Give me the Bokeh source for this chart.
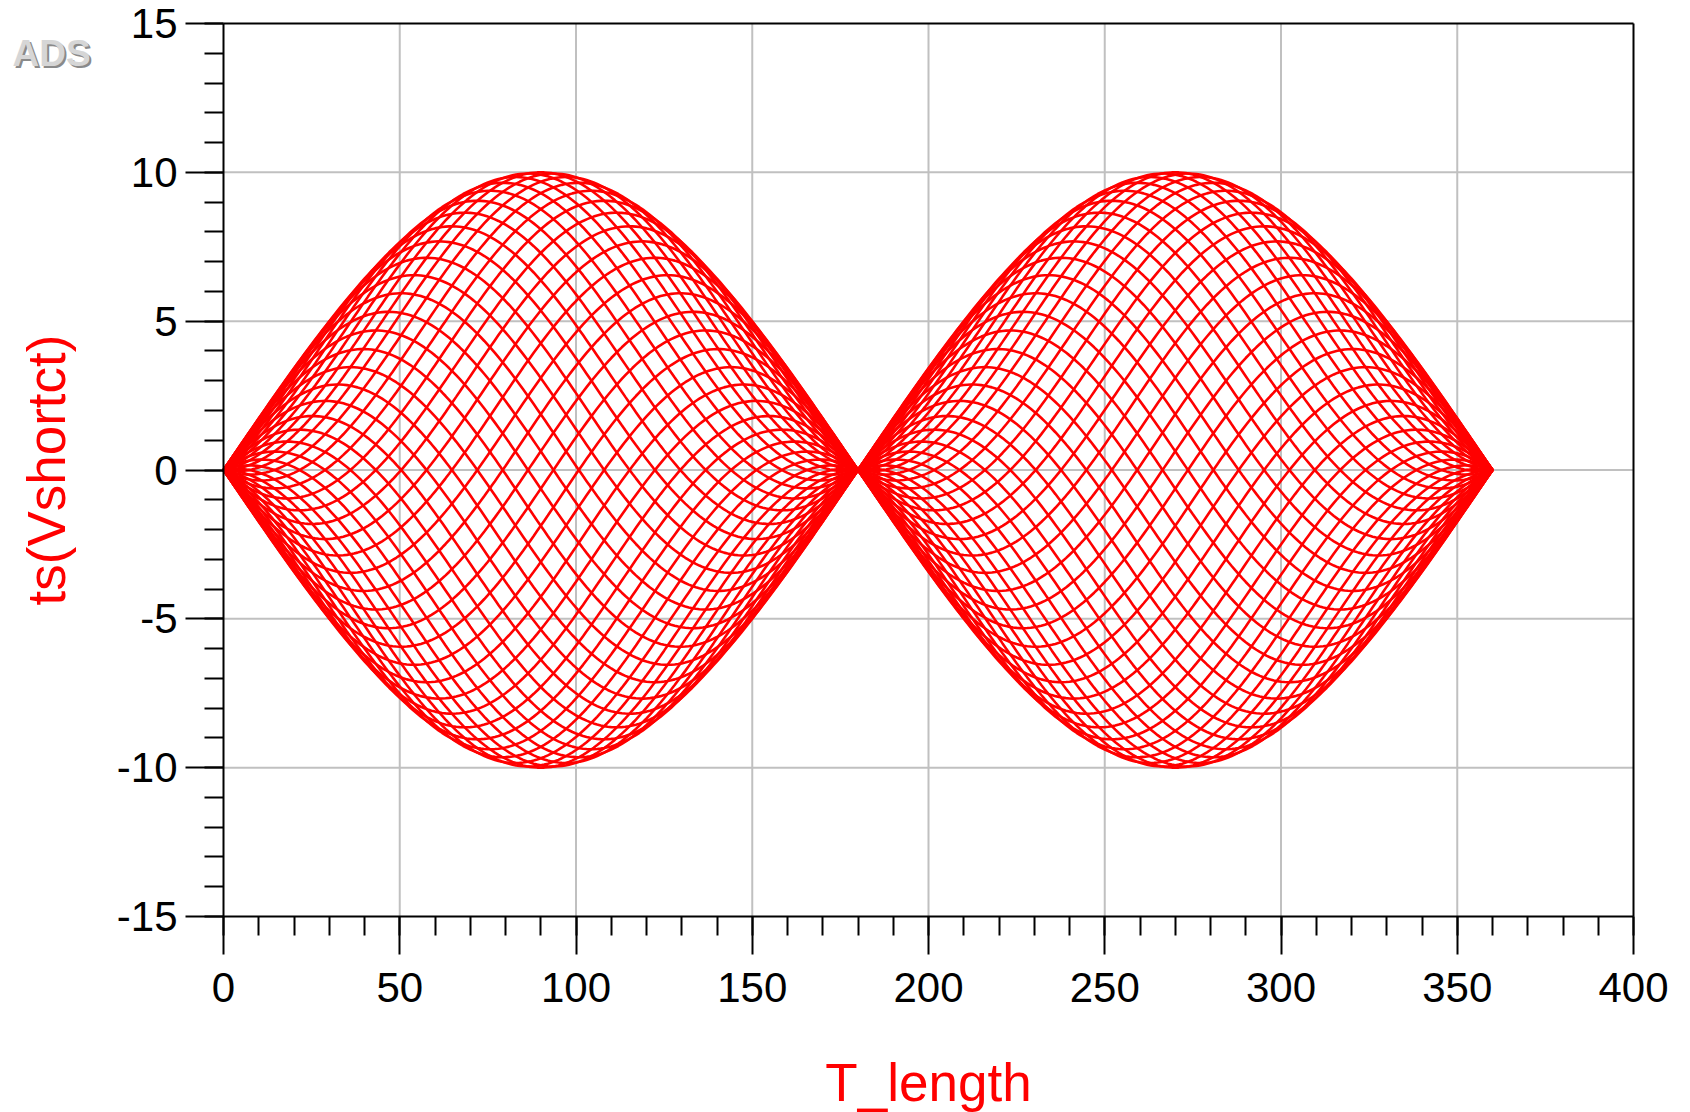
import numpy as np
from bokeh.plotting import figure
from bokeh.models import Range1d, FixedTicker, Label
from bokeh.embed import file_html
from bokeh.resources import INLINE

# ---- data ----
# sweep of the line's electrical length (degrees)
T_START, T_STOP, T_STEP = 0.0, 360.0, 1.0
# time-domain sample phases (degrees) of the ts() output, one trace each
PHASE_DEG = [0.0, 7.2, 14.4, 21.6, 28.8, 36.0, 43.2, 50.4, 57.6, 64.8,
             72.0, 79.2, 86.4, 93.6, 100.8, 108.0, 115.2, 122.4, 129.6, 136.8,
             144.0, 151.2, 158.4, 165.6, 172.8, 180.0, 187.2, 194.4, 201.6, 208.8,
             216.0, 223.2, 230.4, 237.6, 244.8, 252.0, 259.2, 266.4, 273.6, 280.8,
             288.0, 295.2, 302.4, 309.6, 316.8, 324.0, 331.2, 338.4, 345.6, 352.8]
AMPLITUDE = 10.0   # 2*V0 peak of the standing wave

X_MIN, X_MAX = 0, 400
Y_MIN, Y_MAX = -15, 15
X_MAJOR = [0, 50, 100, 150, 200, 250, 300, 350, 400]
X_MINOR = list(range(0, 401, 10))
X_LABELS = ["0", "50", "100", "150", "200", "250", "300", "350", "400"]
Y_MAJOR = [-15, -10, -5, 0, 5, 10, 15]
Y_MINOR = list(range(-15, 16, 1))
Y_LABELS = ["-15", "-10", "-5", "0", "5", "10", "15"]

t_length = np.arange(T_START, T_STOP + T_STEP / 2, T_STEP)
xs, ys = [], []
for ph in PHASE_DEG:
    v = AMPLITUDE * np.sin(np.radians(t_length)) * np.sin(np.radians(t_length - ph))
    xs.append(t_length)
    ys.append(v)

# ---- layout (pixels) ----
W, H = 1674, 1112
BOX_L, BOX_R, BOX_T, BOX_B = 223, 1633, 23, 916
FONT = "Liberation Sans"

sx = (BOX_R - BOX_L) / (X_MAX - X_MIN)
sy = (BOX_B - BOX_T) / (Y_MAX - Y_MIN)
x0 = X_MIN - BOX_L / sx
x1 = x0 + W / sx
y1 = Y_MAX + BOX_T / sy
y0 = y1 - H / sy

p = figure(width=W, height=H,
           x_range=Range1d(x0, x1), y_range=Range1d(y0, y1),
           output_backend="svg", toolbar_location=None,
           min_border=0)
p.background_fill_color = "white"
p.border_fill_color = "white"
p.outline_line_color = None
p.grid.visible = False

# grid lines at the major ticks, inside the plot box
gx = [v for v in X_MAJOR if X_MIN < v < X_MAX]
gy = [v for v in Y_MAJOR if Y_MIN < v < Y_MAX]
p.segment(x0=gx, y0=[Y_MIN] * len(gx), x1=gx, y1=[Y_MAX] * len(gx),
          line_color="#c0c0c0", line_width=2)
p.segment(x0=[X_MIN] * len(gy), y0=gy, x1=[X_MAX] * len(gy), y1=gy,
          line_color="#c0c0c0", line_width=2)

p.multi_line(xs, ys, line_color="#ff0000", line_width=2.6)

# top and right edges of the plot box
p.segment(x0=[X_MIN, X_MAX], y0=[Y_MAX, Y_MIN], x1=[X_MAX, X_MAX], y1=[Y_MAX, Y_MAX],
          line_color="black", line_width=2)

for ax, major, minor, labels in ((p.xaxis[0], X_MAJOR, X_MINOR, X_LABELS),
                                 (p.yaxis[0], Y_MAJOR, Y_MINOR, Y_LABELS)):
    ax.ticker = FixedTicker(ticks=major, minor_ticks=minor)
    ax.major_label_overrides = {m: l for m, l in zip(major, labels)}
    ax.axis_line_color = "black"
    ax.axis_line_width = 2
    ax.major_tick_line_color = "black"
    ax.major_tick_line_width = 2
    ax.minor_tick_line_color = "black"
    ax.minor_tick_line_width = 2
    ax.major_tick_in = 0
    ax.major_tick_out = 38
    ax.minor_tick_in = 0
    ax.minor_tick_out = 19
    ax.major_label_text_font = FONT
    ax.major_label_text_font_size = "42px"
    ax.major_label_text_color = "black"
    ax.axis_label_text_font = FONT
    ax.axis_label_text_font_size = "53px"
    ax.axis_label_text_font_style = "normal"
    ax.axis_label_text_color = "#ff0000"

p.xaxis[0].bounds = (X_MIN, X_MAX)
p.xaxis[0].fixed_location = Y_MIN
p.xaxis[0].major_label_standoff = 18
p.xaxis[0].axis_label = "T_length"
p.xaxis[0].axis_label_standoff = 48

p.yaxis[0].bounds = (Y_MIN, Y_MAX)
p.yaxis[0].fixed_location = X_MIN
p.yaxis[0].major_label_standoff = 8
p.yaxis[0].axis_label = "ts(Vshortct)"
p.yaxis[0].axis_label_standoff = 38

# ADS watermark (embossed grey)
p.add_layout(Label(x=14, y=H - 34, x_units="screen", y_units="screen",
                   text="ADS", text_align="left", text_baseline="top",
                   text_font=FONT, text_font_size="37px", text_font_style="bold",
                   text_color="#8a8a8a"))
p.add_layout(Label(x=12, y=H - 32, x_units="screen", y_units="screen",
                   text="ADS", text_align="left", text_baseline="top",
                   text_font=FONT, text_font_size="37px", text_font_style="bold",
                   text_color="#d6d6d6"))

open("out.html", "w").write(file_html(p, INLINE))
